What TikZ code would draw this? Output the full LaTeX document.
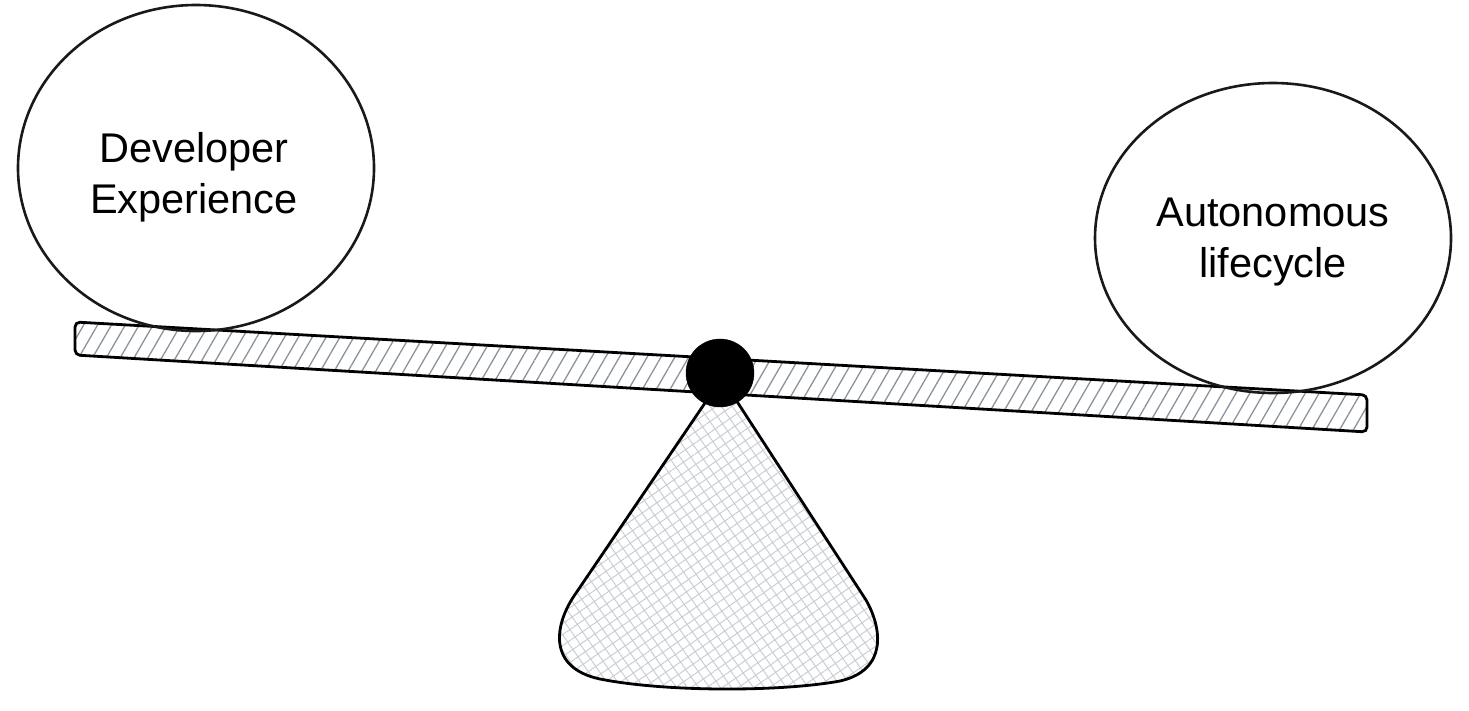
\documentclass[tikz,border=0pt]{standalone}
\usepackage{fontspec}
\setmainfont{Liberation Sans}
\usetikzlibrary{patterns.meta}
\definecolor{hatchA}{HTML}{8A929C}
\definecolor{hatchB}{HTML}{C9CED6}
\tikzset{
  outline/.style={draw=black, line width=2.8pt, line join=round},
  ball/.style={draw=black!90, line width=2.6pt},
  label/.style={font=\fontsize{41.5}{51}\selectfont, align=center, text=black},
}
\begin{document}
\begin{tikzpicture}[x=1pt,y=-1pt]
\useasboundingbox (0,0) rectangle (1469,710);
% cone
\path[pattern={Lines[angle=35,distance=9pt,line width=1pt]}, pattern color=hatchB]
  (707,400) -- (574,596) .. controls (554,626) and (548,668) .. (600,679)
  .. controls (665,692) and (780,692) .. (840,681)
  .. controls (888,670) and (882,628) .. (866,600) -- (736,400) -- cycle;
\path[pattern={Lines[angle=-55,distance=9pt,line width=1pt]}, pattern color=hatchB]
  (707,400) -- (574,596) .. controls (554,626) and (548,668) .. (600,679)
  .. controls (665,692) and (780,692) .. (840,681)
  .. controls (888,670) and (882,628) .. (866,600) -- (736,400) -- cycle;
\draw[outline] (707,400) coordinate (apexL) -- (574,596) .. controls (554,626) and (548,668) .. (600,679)
  .. controls (665,692) and (780,692) .. (840,681)
  .. controls (888,670) and (882,628) .. (866,600) -- (736,400) coordinate (apexR);
% plank
\path[pattern={Lines[angle=60,distance=12pt,line width=1.3pt]}, pattern color=hatchA]
  (75,322) -- (1367,395) -- (1367,432) -- (75,355) -- cycle;
\draw[outline, rounded corners=5pt] (75,322) -- (1367,395) -- (1367,432) -- (75,355) -- cycle;
% pivot
\node[circle, fill=black, draw=black, minimum size=68pt, inner sep=0pt] (pivot) at (720,373) {};
% weights
\draw[ball] (196,168) ellipse [x radius=178, y radius=163];
\draw[ball] (1273,238) ellipse [x radius=178, y radius=155];
\node[label] (dx) at (194,177) {Developer\\Experience};
\node[label] (al) at (1273,242) {Autonomous\\lifecycle};
\end{tikzpicture}
\end{document}
